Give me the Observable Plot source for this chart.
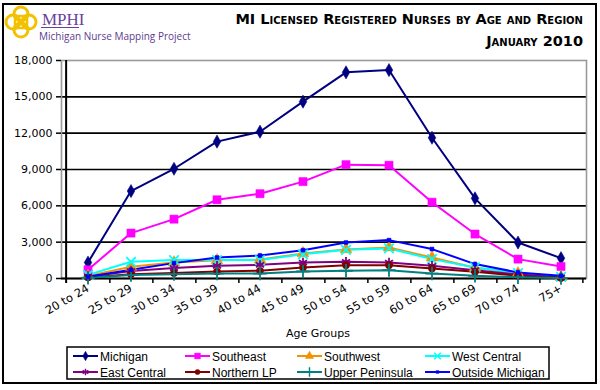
<!DOCTYPE html>
<html>
<head>
<meta charset="utf-8">
<script src="https://cdn.jsdelivr.net/npm/d3@7"></script>
<script src="https://cdn.jsdelivr.net/npm/@observablehq/plot@0.6"></script>
<style>
  html, body { margin: 0; padding: 0; background: #fff; }
  #chart { width: 600px; height: 390px; }
</style>
</head>
<body>
<div id="chart"></div>
<script>
// ---- Data ----
const ageGroups = ["20 to 24","25 to 29","30 to 34","35 to 39","40 to 44","45 to 49","50 to 54","55 to 59","60 to 64","65 to 69","70 to 74","75+"];
const michigan        = [1320, 7220, 9060, 11300, 12120, 14600, 17020, 17210, 11620, 6620, 2970, 1680];
const southeast       = [720, 3750, 4900, 6500, 7000, 8000, 9400, 9350, 6300, 3670, 1600, 990];
const southwest       = [200, 970, 1320, 1500, 1560, 2070, 2400, 2560, 1730, 880, 420, 120];
const westCentral     = [300, 1380, 1520, 1520, 1520, 2000, 2370, 2480, 1600, 910, 440, 130];
const eastCentral     = [150, 620, 860, 1050, 1130, 1320, 1380, 1320, 1050, 690, 330, 100];
const northernLP      = [90, 360, 450, 580, 640, 910, 1100, 1100, 830, 550, 220, 50];
const upperPeninsula  = [60, 280, 360, 410, 410, 580, 640, 690, 410, 220, 110, 40];
const outsideMichigan = [140, 720, 1270, 1730, 1900, 2340, 2970, 3170, 2430, 1190, 500, 220];
const yTicks = [0, 3000, 6000, 9000, 12000, 15000, 18000];

const seriesNames  = ["Michigan","Southeast","Southwest","West Central","East Central","Northern LP","Upper Peninsula","Outside Michigan"];
const seriesValues = [michigan, southeast, southwest, westCentral, eastCentral, northernLP, upperPeninsula, outsideMichigan];
const seriesColors = ["#000080","#FF00FF","#F29200","#00FFFF","#800080","#800000","#008080","#0000FF"];
const seriesSymbols = ["diamond","square","triangle","times","asterisk","circle","plus","square"];
const symbolFilled  = [true, true, true, false, false, true, false, true];
const symbolR       = [4, 4.6, 4.4, 4.4, 4.4, 3.6, 4.4, 2.2];

// ---- Table built from the arrays ----
const table = [];
seriesNames.forEach((s, i) => {
  ageGroups.forEach((a, j) => table.push({series: s, age: a, value: seriesValues[i][j]}));
});

const W = 600, H = 390;
const mL = 61, mR = 14, mT = 60, mB = 112;
const bw = (W - mL - mR) / ageGroups.length;
const pxToY = 18000 / (H - mT - mB);

const marks = [
  Plot.ruleY(yTicks.filter(t => t > 0 && t < 18000), {stroke: "black", strokeWidth: 1.6}),
  Plot.frame({stroke: "#9a9a9a", strokeWidth: 1.6}),
  Plot.ruleY([0], {stroke: "black", strokeWidth: 2}),
  Plot.ruleX([ageGroups[0]], {dx: -bw / 2, stroke: "black", strokeWidth: 2}),
  Plot.ruleX(ageGroups, {dx: bw / 2, y1: 0, y2: -5 * pxToY, stroke: "black", strokeWidth: 1.5}),
  Plot.ruleX([ageGroups[0]], {dx: -bw / 2, y1: 0, y2: -5 * pxToY, stroke: "black", strokeWidth: 2}),
  Plot.axisY({ticks: yTicks, tickFormat: d3.format(","), tickSize: 5, tickPadding: 4, fontSize: 11, label: null, strokeWidth: 1.5}),
  Plot.axisX({tickSize: 0, tickRotate: -30, tickPadding: 9, fontSize: 11.5, label: null})
];

seriesNames.forEach((s, i) => {
  const d = table.filter(r => r.series === s);
  marks.push(Plot.line(d, {x: "age", y: "value", stroke: seriesColors[i], strokeWidth: 2}));
});
seriesNames.forEach((s, i) => {
  const d = table.filter(r => r.series === s);
  marks.push(Plot.dot(d, {
    x: "age", y: "value", symbol: () => seriesSymbols[i], r: symbolR[i],
    fill: symbolFilled[i] ? seriesColors[i] : "none",
    stroke: seriesColors[i], strokeWidth: symbolFilled[i] ? 0.5 : 1.8
  }));
});

const chart = Plot.plot({
  width: W, height: H,
  marginLeft: mL, marginRight: mR, marginTop: mT, marginBottom: mB,
  style: {fontFamily: "DejaVu Sans", fontSize: "11px", background: "white", color: "black"},
  x: {type: "band", domain: ageGroups, padding: 0, align: 0.5},
  y: {domain: [0, 18000], ticks: yTicks},
  symbol: {type: "identity"},
  marks
});
document.getElementById("chart").appendChild(chart);

// ---- Decorations: border, logo, title, axis title, legend ----
const svg = d3.select(chart);
svg.append("rect").attr("x", 3).attr("y", 4).attr("width", 593).attr("height", 379)
  .attr("fill", "none").attr("stroke", "black").attr("stroke-width", 2);

// logo
const logo = svg.append("g").attr("text-anchor", "start");
[[13, 22], [29, 22], [21, 14], [21, 30]].forEach(([cx, cy]) => {
  logo.append("circle").attr("cx", cx).attr("cy", cy).attr("r", 7)
    .attr("fill", "none").attr("stroke", "#F2C200").attr("stroke-width", 3);
});
logo.append("rect").attr("x", 15).attr("y", 16).attr("width", 12).attr("height", 12)
  .attr("fill", "none").attr("stroke", "#F2C200").attr("stroke-width", 2.5);
logo.append("text").attr("x", 42).attr("y", 25).text("MPHI")
  .attr("font-family", "Liberation Serif").attr("font-size", 17).attr("fill", "#6B3FA0");
logo.append("line").attr("x1", 41).attr("x2", 79).attr("y1", 27.5).attr("y2", 27.5)
  .attr("stroke", "#6B3FA0").attr("stroke-width", 1.2);
logo.append("text").attr("x", 39).attr("y", 40).text("Michigan Nurse Mapping Project")
  .attr("font-family", "Open Sans").attr("font-size", 10).attr("fill", "#5E3A92");

// title
const title = svg.append("g").attr("font-family", "DejaVu Sans").attr("font-weight", "bold")
  .attr("font-size", 14.5).attr("text-anchor", "end").attr("fill", "black")
  .style("font-variant", "small-caps");
title.append("text").attr("x", 583).attr("y", 24).text("MI Licensed Registered Nurses by Age and Region");
title.append("text").attr("x", 583).attr("y", 46).text("January 2010");

// axis title
svg.append("text").attr("x", 318).attr("y", 337).attr("text-anchor", "middle")
  .attr("font-family", "DejaVu Sans").attr("font-size", 11).text("Age Groups");

// legend
const lg = svg.append("g").attr("text-anchor", "start");
lg.append("rect").attr("x", 67).attr("y", 347).attr("width", 482).attr("height", 32)
  .attr("fill", "white").attr("stroke", "black").attr("stroke-width", 1.5);
const colX = [73, 185, 297, 425];
const rowY = [356, 372];
const symMap = {diamond: d3.symbolDiamond, square: d3.symbolSquare, triangle: d3.symbolTriangle,
  times: d3.symbolTimes, asterisk: d3.symbolAsterisk, circle: d3.symbolCircle, plus: d3.symbolPlus};
seriesNames.forEach((s, i) => {
  const x = colX[i % 4], y = rowY[Math.floor(i / 4)];
  lg.append("line").attr("x1", x).attr("x2", x + 25).attr("y1", y).attr("y2", y)
    .attr("stroke", seriesColors[i]).attr("stroke-width", 2);
  lg.append("path").attr("transform", `translate(${x + 12.5},${y})`)
    .attr("d", d3.symbol(symMap[seriesSymbols[i]], Math.PI * symbolR[i] * symbolR[i] * 0.5)())
    .attr("fill", symbolFilled[i] ? seriesColors[i] : "none")
    .attr("stroke", seriesColors[i]).attr("stroke-width", symbolFilled[i] ? 0.5 : 1.4);
  lg.append("text").attr("x", x + 27).attr("y", y + 4.5).text(s)
    .attr("font-family", "Liberation Sans").attr("font-size", 12).attr("fill", "black");
});
</script>
</body>
</html>
